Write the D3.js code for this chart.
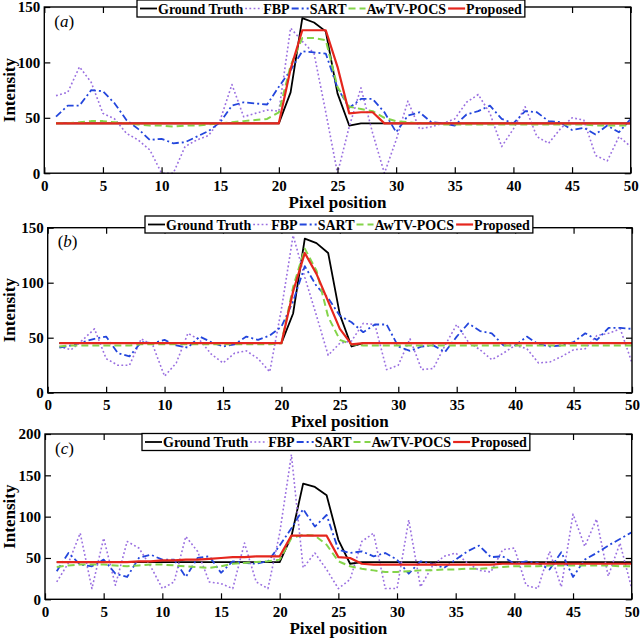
<!DOCTYPE html>
<html><head><meta charset="utf-8">
<script src="https://cdn.jsdelivr.net/npm/d3@7"></script>
<style>body{margin:0;background:#fff}svg{display:block}</style>
</head><body>
<svg id="chart" width="640" height="639"></svg>
<script>
// ---------- data ----------
const pixels = d3.range(1, 51);
const xTickValues = [0, 5, 10, 15, 20, 25, 30, 35, 40, 45, 50];
const yTicksAB = [0, 50, 100, 150];
const yTicksC = [0, 50, 100, 150, 200];
const seriesNames = ["Ground Truth", "FBP", "SART", "AwTV-POCS", "Proposed"];
const panelLabels = ["a", "b", "c"];
const xLabel = "Pixel position";
const yLabel = "Intensity";

// panel (a)
const gtA = [45,45,45,45,45,45,45,45,45,45,45,45,45,45,45,45,45,45,45,45,
  73,140,136,128,72,43,45,45,45,45,45,45,45,45,45,45,45,45,45,45,45,45,45,45,45,45,45,45,45,45];
const fbpA = [70,73,96,82,54,49,36,30,21,0,0,24,30,34,48,80,51,54,57,56,
  131,119,108,55,0,42,77,36,0,30,65,40,42,45,49,64,71,54,24,40,60,33,27,40,50,48,16,11,33,24];
const sartA = [51,61,61,75,74,63,48,40,30,31,27,28,33,38,46,61,64,63,62,78,
  93,110,109,108,77,59,67,67,55,37,52,55,46,45,43,53,56,61,49,45,56,55,47,46,39,41,35,43,37,49];
const awtvA = [45,45,46,47,47,46,45,44,43,43,42,43,43,44,45,46,47,48,49,55,
  97,122,122,120,78,60,58,56,50,47,46,45,45,44,44,44,44,44,44,44,44,44,44,44,44,44,43,43,43,43];
const propA = [45,45,45,45,45,45,45,45,45,45,45,45,45,45,45,45,45,45,45,45,
  94,129,129,129,96,54,55,55,45,45,45,45,45,45,45,45,45,45,45,45,45,45,45,45,45,45,45,45,45,45];

// panel (b)
const gtB = [45,45,45,45,45,45,45,45,45,45,45,45,45,45,45,45,45,45,45,45,
  72,140,136,127,71,42,45,45,45,45,45,45,45,45,45,45,45,45,45,45,45,45,45,45,45,45,45,45,45,45];
const fbpB = [42,39,48,58,31,25,25,49,43,15,27,54,48,35,27,36,38,31,19,76,
  143,105,70,34,45,47,63,62,21,25,49,21,22,43,62,46,39,30,36,43,40,27,28,33,39,40,52,54,58,27];
const sartB = [41,43,46,49,51,36,33,46,45,48,43,41,51,46,42,44,51,48,52,60,
  83,115,97,86,70,64,55,62,62,42,38,42,43,37,51,63,56,54,43,43,51,44,42,43,46,54,48,59,59,58];
const awtvB = [42,43,43,43,43,43,43,44,44,44,44,44,44,44,44,44,44,44,44,45,
  96,131,111,69,48,44,43,43,43,43,43,43,43,43,43,43,43,43,43,43,43,43,43,43,43,43,43,43,43,43];
const propB = [45,45,45,45,45,45,45,45,45,45,45,45,45,45,45,45,45,45,45,45,
  92,127,108,83,58,44,45,45,45,45,45,45,45,45,45,45,45,45,45,45,45,45,45,45,45,45,45,45,45,45];

// panel (c)
const gtC = [45,45,45,45,45,45,45,45,45,45,45,45,45,45,45,45,45,45,45,45,
  76,140,136,126,72,43,45,45,45,45,45,45,45,45,45,45,45,45,45,45,45,45,45,45,45,45,45,45,45,45];
const fbpC = [21,44,80,13,74,17,70,62,40,13,21,76,58,21,19,13,68,21,13,80,
  175,38,56,36,13,24,70,80,13,13,96,15,40,52,56,44,35,33,60,62,17,13,58,15,103,64,97,28,68,13];
const sartC = [34,56,42,40,48,31,27,50,54,48,48,27,50,52,32,46,44,43,46,65,
  86,109,88,102,60,56,58,52,56,48,31,46,43,38,48,58,65,51,52,43,46,44,36,57,27,48,56,65,73,81];
const awtvC = [39,41,42,42,42,41,40,41,42,42,41,40,39,38,40,43,44,45,46,48,
  74,78,77,66,46,40,37,35,33,33,34,35,35,36,36,37,37,38,39,40,40,40,41,41,41,41,41,41,40,40];
const propC = [45,45,45,45,45,45,45,46,46,47,47,48,48,49,50,51,51,52,52,52,
  77,77,77,77,51,50,43,42,42,42,42,42,42,42,42,42,42,42,43,43,43,43,43,43,43,43,43,43,43,43];

// ---------- layout & style ----------
const serif = "'Liberation Serif','Times New Roman',Times,serif";
const styles = [
  {color: "#000000", width: 1.8, dash: null},
  {color: "#9a6fe0", width: 1.6, dash: "1.8,2.4"},
  {color: "#2346dc", width: 1.8, dash: "7,3,2,3"},
  {color: "#84d44a", width: 2.0, dash: "7,4"},
  {color: "#e5261d", width: 2.2, dash: null}
];
const panels = [
  {series: [gtA, fbpA, sartA, awtvA, propA], yTicks: yTicksAB, left: 44.3, right: 630.7, top: 7, bottom: 173.2,
   legX: 137, legY: 0, xLabelY: 208},
  {series: [gtB, fbpB, sartB, awtvB, propB], yTicks: yTicksAB, left: 47.7, right: 632, top: 227.7, bottom: 392.7,
   legX: 145, legY: 216, xLabelY: 427},
  {series: [gtC, fbpC, sartC, awtvC, propC], yTicks: yTicksC, left: 45, right: 631.7, top: 434, bottom: 599.3,
   legX: 142, legY: 433.5, xLabelY: 634}
];

const svg = d3.select("#chart");

panels.forEach((p, pi) => {
  const x = d3.scaleLinear().domain([0, 50]).range([p.left, p.right]);
  const yMax = d3.max(p.yTicks);
  const y = d3.scaleLinear().domain([0, yMax]).range([p.bottom, p.top]);
  const g = svg.append("g");

  // lines
  const clipId = "clip" + pi;
  g.append("clipPath").attr("id", clipId).append("rect")
    .attr("x", p.left).attr("y", p.top - 2).attr("width", p.right - p.left).attr("height", p.bottom - p.top + 4);
  const line = d3.line().x((d, i) => x(pixels[i])).y(d => y(d));
  const lg = g.append("g").attr("clip-path", `url(#${clipId})`);
  p.series.forEach((s, si) => {
    const st = styles[si];
    lg.append("path").datum(s).attr("d", line)
      .attr("fill", "none").attr("stroke", st.color).attr("stroke-width", st.width)
      .attr("stroke-dasharray", st.dash).attr("stroke-linejoin", "round");
  });

  // axes (inside ticks, box)
  const tickLen = 6;
  const axB = d3.axisBottom(x).tickValues(xTickValues).tickSize(-tickLen).tickPadding(7).tickFormat(d3.format("d"));
  const axT = d3.axisTop(x).tickValues(xTickValues).tickSize(-tickLen).tickFormat("");
  const axL = d3.axisLeft(y).tickValues(p.yTicks).tickSize(-tickLen).tickPadding(4).tickFormat(d3.format("d"));
  const axR = d3.axisRight(y).tickValues(p.yTicks).tickSize(-tickLen).tickFormat("");
  const gb = g.append("g").attr("transform", `translate(0,${p.bottom})`).call(axB);
  const gt = g.append("g").attr("transform", `translate(0,${p.top})`).call(axT);
  const gl = g.append("g").attr("transform", `translate(${p.left},0)`).call(axL);
  const gr = g.append("g").attr("transform", `translate(${p.right},0)`).call(axR);
  [gb, gt, gl, gr].forEach(a => {
    a.select(".domain").attr("stroke", "#000").attr("stroke-width", 1.4)
      .attr("d", null);
    a.selectAll(".tick line").attr("stroke", "#000").attr("stroke-width", 1.2);
    a.selectAll("text").attr("font-family", serif).attr("font-weight", "bold")
      .attr("font-size", 15).attr("fill", "#000");
  });
  gb.select(".domain").remove(); gt.select(".domain").remove();
  gl.select(".domain").remove(); gr.select(".domain").remove();
  g.append("rect").attr("x", p.left).attr("y", p.top)
    .attr("width", p.right - p.left).attr("height", p.bottom - p.top)
    .attr("fill", "none").attr("stroke", "#000").attr("stroke-width", 1.4);

  // axis labels
  g.append("text").attr("x", (p.left + p.right) / 2).attr("y", p.xLabelY)
    .attr("text-anchor", "middle").attr("font-family", serif).attr("font-weight", "bold")
    .attr("font-size", 17).text(xLabel);
  g.append("text").attr("transform", `translate(15,${(p.top + p.bottom) / 2}) rotate(-90)`)
    .attr("text-anchor", "middle").attr("font-family", serif).attr("font-weight", "bold")
    .attr("font-size", 17).text(yLabel);

  // panel label
  const pl = g.append("text").attr("x", p.left + 10).attr("y", p.top + 19.5)
    .attr("font-family", serif).attr("font-size", 17);
  pl.append("tspan").text("(");
  pl.append("tspan").attr("font-style", "italic").text(panelLabels[pi]);
  pl.append("tspan").text(")");

  // legend
  const leg = g.append("g");
  const box = leg.append("rect").attr("x", p.legX).attr("y", p.legY).attr("height", 17)
    .attr("fill", "#fff").attr("stroke", "#000").attr("stroke-width", 1.3);
  let cx = p.legX + 3;
  const cy = p.legY + 8.5;
  seriesNames.forEach((name, si) => {
    const st = styles[si];
    leg.append("line").attr("x1", cx).attr("x2", cx + 17).attr("y1", cy).attr("y2", cy)
      .attr("stroke", st.color).attr("stroke-width", st.width).attr("stroke-dasharray", st.dash);
    const t = leg.append("text").attr("x", cx + 18).attr("y", cy + 5)
      .attr("font-family", serif).attr("font-weight", "bold").attr("font-size", 14).text(name);
    cx += 18 + t.node().getComputedTextLength() + 2;
  });
  box.attr("width", cx - p.legX + 1);
});
</script>
</body></html>
